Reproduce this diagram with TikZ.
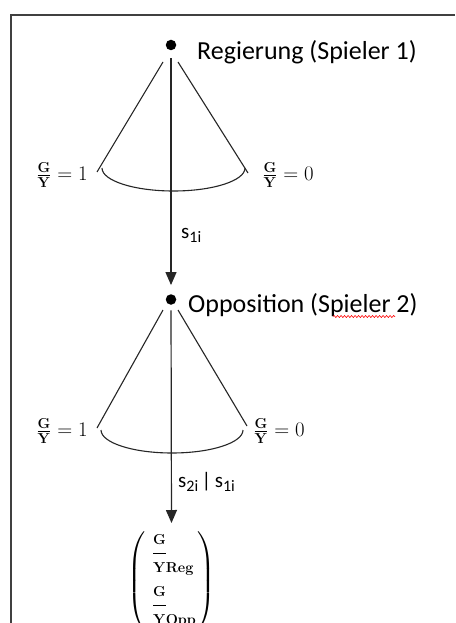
\documentclass[tikz,border=0pt]{standalone}
\usepackage{amsmath}
\usepackage[no-math]{fontspec}
\setmainfont{Carlito}
\usetikzlibrary{arrows.meta,decorations.pathmorphing}
\newcommand{\lowsub}[1]{\raisebox{-4.5pt}{\fontsize{16}{18}\selectfont #1}}
\newcommand{\gyfrac}[1]{\dfrac{\scriptstyle\mathbf{G}}{\scriptstyle\mathbf{Y}\rlap{$\scriptstyle\mathbf{#1}$}}}
\newcommand{\gylbl}[1]{\frac{\mathbf{G}}{\mathbf{Y}}=#1}
\begin{document}
\begin{tikzpicture}[x=1pt,y=-1pt,
  dotnode/.style={circle,fill=black,inner sep=0pt,minimum size=10.5pt},
  playerlbl/.style={anchor=base west,inner sep=0pt,font=\fontsize{26}{30}\selectfont},
  mathlbl/.style={inner sep=0pt,font=\fontsize{20}{24}\selectfont},
  slbl/.style={anchor=base west,inner sep=0pt,font=\fontsize{21}{24}\selectfont},
  coneline/.style={line width=1.1pt,black!85},
  arr/.style={line width=1.2pt,black!85,-{Triangle[length=13pt,width=11pt]}},
  frameline/.style={line width=1.6pt,black!75}]
\useasboundingbox (0,0) rectangle (455,623);
\clip (0,0) rectangle (455,623);
\fill[white] (0,0) rectangle (455,623);
% frame
\draw[frameline] (11,623) -- (11,15) -- (455,15);
% player 1
\node[dotnode] (p1) at (171,45) {};
\node[playerlbl] (r) at (197,60) {Regierung (Spieler 1)};
\draw[coneline] (163,62) -- (97,172);
\draw[coneline] (178,62) -- (248,173);
\draw[coneline] (102,168) arc[start angle=180,end angle=360,x radius=71.5pt,y radius=23pt];
\node[mathlbl] (l1) at (62,175) {$\gylbl{1}$};
\node[mathlbl] (r1) at (288,175) {$\gylbl{0}$};
% player 2
\node[dotnode] (p2) at (171,299.5) {};
\node[playerlbl] (o) at (188,312) {Opposition (Spieler 2)};
\draw[red,line width=0.6pt,decorate,decoration={snake,amplitude=1pt,segment length=3.5pt}] (333,316.5) -- (395,316.5);
\draw[coneline] (163,310) -- (97,428);
\draw[coneline] (178,310) -- (247,426);
\draw[coneline] (101,430) arc[start angle=180,end angle=360,x radius=71pt,y radius=23pt];
\node[mathlbl] (l2) at (62,431) {$\gylbl{1}$};
\node[mathlbl] (r2) at (279,431) {$\gylbl{0}$};
% outcome
\node[inner sep=0pt,anchor=north,font=\fontsize{21}{25}\selectfont] (v) at (171.5,531)
 {$\left(\begin{array}{@{\hspace{6pt}}l@{}}
   \gyfrac{Reg}\hspace{30pt}\\[20pt]
   \gyfrac{Opp}\hspace{30pt}
  \end{array}\right)$};
% arrows
\draw[arr,shorten <=8pt,shorten >=9pt] (p1) -- (p2);
\node[slbl] (s1) at (181,238) {s\lowsub{1i}};
\draw[arr,shorten <=5.5pt,shorten >=8pt] (p2) -- (v.north);
\node[slbl] (s2) at (178,487) {s\lowsub{2i}\,|\,s\lowsub{1i}};
\end{tikzpicture}
\end{document}
